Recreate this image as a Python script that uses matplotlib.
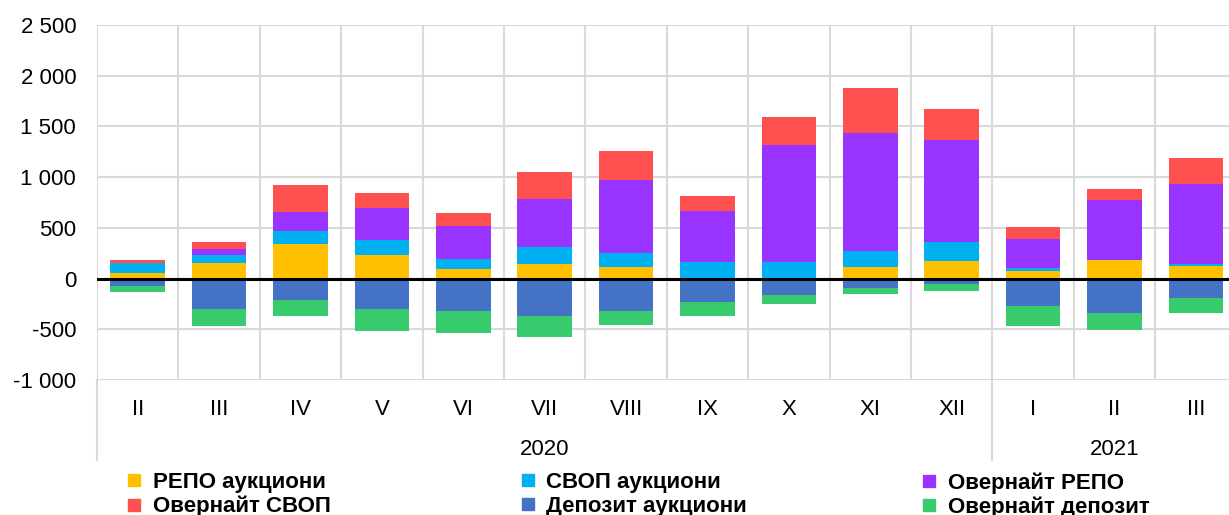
import numpy as np
import matplotlib
matplotlib.use("Agg")
import matplotlib.pyplot as plt
from matplotlib.lines import Line2D
import matplotlib.transforms as mtrans

months = ['II', 'III', 'IV', 'V', 'VI', 'VII', 'VIII', 'IX', 'X', 'XI', 'XII', 'I', 'II', 'III']
years = ['2020', '2021']
year_counts = [11, 3]

# million BGN
repo_auct = [53, 152, 345, 237, 93, 145, 115, 0, 0, 115, 175, 76, 184, 122]
swap_auct = [99, 85, 125, 148, 98, 165, 138, 162, 162, 155, 187, 32, 0, 26]
overnight_repo = [0, 56, 188, 312, 332, 476, 720, 508, 1156, 1167, 1009, 283, 589, 786]
overnight_swap = [32, 69, 263, 145, 125, 263, 286, 142, 274, 440, 305, 119, 111, 256]
deposit_auct = [-72, -296, -210, -296, -318, -365, -318, -227, -161, -95, -52, -272, -335, -190]
overnight_dep = [-59, -167, -161, -217, -214, -213, -139, -144, -86, -53, -72, -191, -168, -145]

labels = ['РЕПО аукциони', 'СВОП аукциони', 'Овернайт РЕПО',
          'Овернайт СВОП', 'Депозит аукциони', 'Овернайт депозит']
colors = ['#FFC000', '#00B0F0', '#9933FF', '#FF5050', '#4472C4', '#38CB6E']

plt.rcParams['font.family'] = ['Liberation Sans', 'DejaVu Sans']

fig = plt.figure(figsize=(12.29, 5.15), dpi=100)
ax = fig.add_axes([0.0789, 0.2621, 0.9273, 0.6894])

x = np.arange(len(months))
w = 0.67
pos = [repo_auct, swap_auct, overnight_repo, overnight_swap]
bottom = np.zeros(len(months))
for vals, c in zip(pos, colors[:4]):
    ax.bar(x, vals, w, bottom=bottom, color=c, zorder=3)
    bottom += np.array(vals)
bottom = np.zeros(len(months))
for vals, c in zip([deposit_auct, overnight_dep], colors[4:]):
    ax.bar(x, vals, w, bottom=bottom, color=c, zorder=3)
    bottom += np.array(vals)

ax.axhline(0, color='black', lw=2.2, zorder=5)

ax.set_xlim(-0.5, len(months) - 0.5)
ax.set_ylim(-1000, 2500)
ax.set_yticks(np.arange(-1000, 2501, 500))
ax.set_yticklabels(['{:,}'.format(v).replace(',', ' ') for v in range(-1000, 2501, 500)])
ax.yaxis.grid(True, color='#D9D9D9', lw=1.5, zorder=0)
for b in np.arange(-0.5, len(months), 1):
    ax.axvline(b, color='#D9D9D9', lw=1.5, zorder=0)

ax.set_xticks(x)
ax.set_xticklabels(months)
ax.tick_params(axis='both', length=0, labelsize=16)
ax.tick_params(axis='x', pad=14)
ax.tick_params(axis='y', pad=15)
for s in ax.spines.values():
    s.set_visible(False)

# year level of the category axis
trans = mtrans.blended_transform_factory(ax.transData, ax.transAxes)
start = -0.5
for yr, n in zip(years, year_counts):
    ax.text(start + n / 2, -0.195, yr, transform=trans, ha='center', va='center', fontsize=16)
    start += n
for b in [-0.5, year_counts[0] - 0.5]:
    ax.plot([b, b], [0, -0.225], transform=trans, color='#D9D9D9', lw=1.5, clip_on=False)

# legend, three columns of two
order = [[0, 3], [1, 4], [2, 5]]
xs = [0.102, 0.422, 0.749]
for xi, idx in zip(xs, order):
    handles = [Line2D([], [], marker='s', ls='', markersize=9, color=colors[i]) for i in idx]
    leg = fig.legend(handles, [labels[i] for i in idx], loc='upper left',
                     bbox_to_anchor=(xi, 0.083), frameon=False, borderpad=0,
                     borderaxespad=0, handlelength=0.8, handletextpad=0.45,
                     labelspacing=0.12, prop={'weight': 'bold', 'size': 16})

fig.savefig('out.png', dpi=100)
